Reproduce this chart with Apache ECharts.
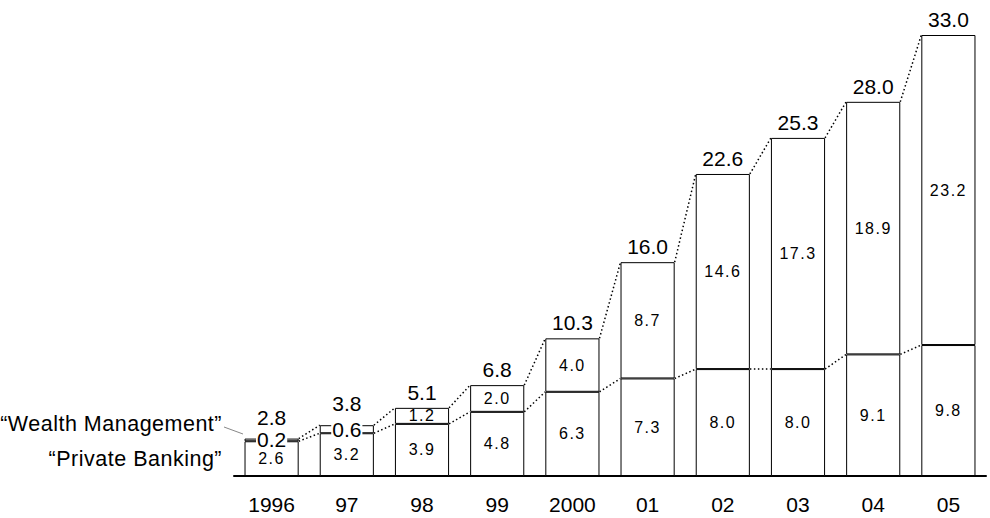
<!DOCTYPE html>
<html><head><meta charset="utf-8">
<script src="https://cdn.jsdelivr.net/npm/echarts@6/dist/echarts.min.js"></script>
<style>html,body{margin:0;padding:0;background:#fff}#c{width:990px;height:518px}
#c text[style*="16px"], #c text[font-size="16"], #c text[font-size="16px"]{letter-spacing:1.5px}
#c text[style*="21.5px"], #c text[font-size="21.5"], #c text[font-size="21.5px"]{letter-spacing:0.5px}
</style>
</head><body><div id="c"></div>
<script>
const categories = ['1996','97','98','99','2000','01','02','03','04','05'];
const privateBanking = [2.6,3.2,3.9,4.8,6.3,7.3,8.0,8.0,9.1,9.8];
const wealthManagement = [0.2,0.6,1.2,2.0,4.0,8.7,14.6,17.3,18.9,23.2];
const totals = [2.8,3.8,5.1,6.8,10.3,16.0,22.6,25.3,28.0,33.0];
const seriesNames = ['“Wealth Management”','“Private Banking”'];

const FONT = 'Liberation Sans, Arial, Helvetica, sans-serif';
const BAR_RATIO = 0.72;
const chart = echarts.init(document.getElementById('c'), null, {renderer:'svg'});

function connectors(vals){
  const d=[];
  for(let i=0;i<vals.length-1;i++) d.push([i, vals[i], vals[i+1]]);
  return d;
}
function renderConn(params, api){
  const i = api.value(0);
  const p1 = api.coord([i, api.value(1)]);
  const p2 = api.coord([i+1, api.value(2)]);
  const half = api.size([1,0])[0]*BAR_RATIO/2;
  return {type:'line', shape:{x1:p1[0]+half, y1:p1[1], x2:p2[0]-half, y2:p2[1]},
    style:{stroke:'#000', lineWidth:1.5, lineDash:[1.5,2.5]}, silent:true};
}

const wmData = wealthManagement.map((v,i)=>{
  if(i<2) return {value:v, label:{fontSize:21, backgroundColor:'#fff', padding:[0,1], color:'#000'}};
  return v;
});
const totalData = totals.map((v,i)=>{
  if(i<2) return {value:v, label:{distance:11}};
  return v;
});

chart.setOption({
  animation:false,
  grid:{left:234, right:4, top:35, bottom:42},
  xAxis:{type:'category', data:categories,
    axisLine:{lineStyle:{color:'#000', width:2}},
    axisTick:{show:false},
    axisLabel:{color:'#000', fontSize:21, lineHeight:21, fontFamily:FONT, margin:18}},
  yAxis:{type:'value', min:0, max:33, show:false, splitLine:{show:false}},
  series:[
    {name:seriesNames[1], type:'bar', stack:'a', data:privateBanking, barWidth:(BAR_RATIO*100)+'%',
      itemStyle:{color:'#fff', borderColor:'#000', borderWidth:1},
      label:{show:true, position:'inside', color:'#000', fontSize:16, fontFamily:FONT,
        formatter:p=>p.value.toFixed(1)}},
    {name:seriesNames[0], type:'bar', stack:'a', data:wmData, barWidth:(BAR_RATIO*100)+'%',
      itemStyle:{color:'#fff', borderColor:'#000', borderWidth:1},
      label:{show:true, position:'inside', color:'#000', fontSize:16, fontFamily:FONT,
        formatter:p=>Number(p.value).toFixed(1)}},
    {name:'Total', type:'bar', data:totalData, barWidth:(BAR_RATIO*100)+'%', barGap:'-100%',
      itemStyle:{color:'rgba(0,0,0,0)', borderWidth:0}, z:1, silent:true,
      label:{show:true, position:'top', distance:5, color:'#000', fontSize:21, fontFamily:FONT,
        formatter:p=>Number(p.value).toFixed(1)}},
    {type:'custom', renderItem:renderConn, data:connectors(totals), z:5, silent:true},
    {type:'custom', renderItem:renderConn, data:connectors(privateBanking), z:5, silent:true}
  ],
  graphic:[
    {type:'text', x:222, y:424, style:{text:seriesNames[0], fill:'#000', font:'21.5px '+FONT, align:'right', verticalAlign:'middle'}},
    {type:'text', x:222, y:459, style:{text:seriesNames[1], fill:'#000', font:'21.5px '+FONT, align:'right', verticalAlign:'middle'}},
    {type:'line', shape:{x1:224, y1:427, x2:243, y2:434}, style:{stroke:'#888', lineWidth:1}}
  ]
});
</script></body></html>
